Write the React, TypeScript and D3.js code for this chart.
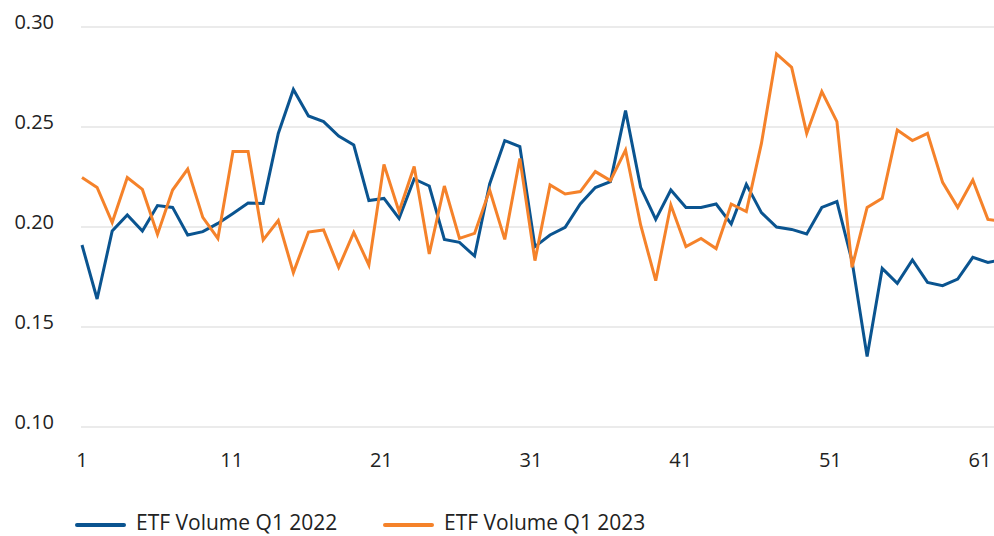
import React from "react";
import * as d3 from "d3";

// day index 1..62
const days = d3.range(1, 63);

const volume2022 = [
  0.191, 0.164, 0.198, 0.206, 0.198, 0.2107, 0.2098, 0.196, 0.1977, 0.2018,
  0.2068, 0.212, 0.2118, 0.2468, 0.2688, 0.2555, 0.2527, 0.2455, 0.241, 0.2132,
  0.2143, 0.2043, 0.224, 0.2205, 0.1938, 0.1923, 0.1855, 0.2215, 0.2432, 0.2402,
  0.1902, 0.196, 0.1998, 0.2115, 0.2197, 0.2227, 0.2582, 0.2198, 0.2038, 0.2185,
  0.2098, 0.2098, 0.2115, 0.2015, 0.2213, 0.2072, 0.2, 0.1988, 0.1965, 0.2098,
  0.2127, 0.183, 0.1352, 0.1793, 0.1718, 0.1835, 0.1723, 0.1707, 0.174, 0.1848,
  0.1823, 0.1838,
];

const volume2023 = [
  0.2248, 0.2198, 0.2022, 0.2247, 0.2188, 0.1963, 0.2185, 0.229, 0.2048, 0.1943,
  0.2377, 0.2377, 0.1935, 0.2032, 0.1772, 0.1975, 0.1985, 0.1798, 0.1973, 0.181,
  0.2313, 0.2077, 0.2302, 0.1865, 0.2205, 0.1943, 0.1968, 0.2185, 0.1938, 0.2343,
  0.1832, 0.221, 0.2165, 0.2177, 0.2277, 0.2232, 0.2385, 0.201, 0.1732, 0.211,
  0.1902, 0.1943, 0.1892, 0.2115, 0.2077, 0.2418, 0.2865, 0.2798, 0.2468, 0.2677,
  0.2527, 0.1798, 0.2098, 0.2143, 0.2485, 0.2432, 0.2468, 0.2223, 0.2098, 0.2235,
  0.2038, 0.2027,
];

const yTicks = [0.1, 0.15, 0.2, 0.25, 0.3];
const xTicks = [1, 11, 21, 31, 41, 51, 61];

const series = [
  { name: "ETF Volume Q1 2022", values: volume2022, color: "#0a5490" },
  { name: "ETF Volume Q1 2023", values: volume2023, color: "#f5822a" },
];

const width = 994;
const height = 536;
const font = "'Open Sans', 'Noto Sans', sans-serif";

export default function App() {
  const x = d3.scaleLinear().domain([1, 62]).range([82, 1003]);
  // tick labels sit on a slightly tighter spacing so "61" stays inside
  const xLabel = d3.scaleLinear().domain([1, 61]).range([82, 980]);
  const y = d3.scaleLinear().domain([0.1, 0.3]).range([427, 27]);

  const line = d3
    .line<number>()
    .x((_, i) => x(days[i]))
    .y((d) => y(d));

  return (
    <div style={{ position: "absolute", left: 0, top: 0 }}>
      <svg width={width} height={height} style={{ display: "block" }}>
        {/* gridlines + y labels */}
        {yTicks.map((t) => (
          <g key={t}>
            <line
              x1={81}
              x2={width}
              y1={y(t)}
              y2={y(t)}
              stroke="#ebebeb"
              strokeWidth={2}
            />
            <text
              x={54}
              y={y(t) - 5}
              dy="0.35em"
              textAnchor="end"
              fontFamily={font}
              fontSize={20}
              fill="#222"
            >
              {t.toFixed(2)}
            </text>
          </g>
        ))}

        {/* x labels */}
        {xTicks.map((t) => (
          <text
            key={t}
            x={xLabel(t)}
            y={460}
            dy="0.35em"
            textAnchor="middle"
            fontFamily={font}
            fontSize={20}
            fill="#222"
          >
            {t}
          </text>
        ))}

        {/* lines */}
        {series.map((s) => (
          <path
            key={s.name}
            d={line(s.values) || ""}
            fill="none"
            stroke={s.color}
            strokeWidth={3}
          />
        ))}

        {/* legend */}
        {series.map((s, i) => {
          const lx = 77 + i * 308;
          return (
            <g key={s.name} transform={`translate(${lx},525)`}>
              <line
                x1={0}
                x2={47}
                y1={0}
                y2={0}
                stroke={s.color}
                strokeWidth={4}
                strokeLinecap="round"
              />
              <text
                x={59}
                y={-2}
                dy="0.35em"
                fontFamily={font}
                fontSize={21}
                fill="#222"
              >
                {s.name}
              </text>
            </g>
          );
        })}
      </svg>
    </div>
  );
}
